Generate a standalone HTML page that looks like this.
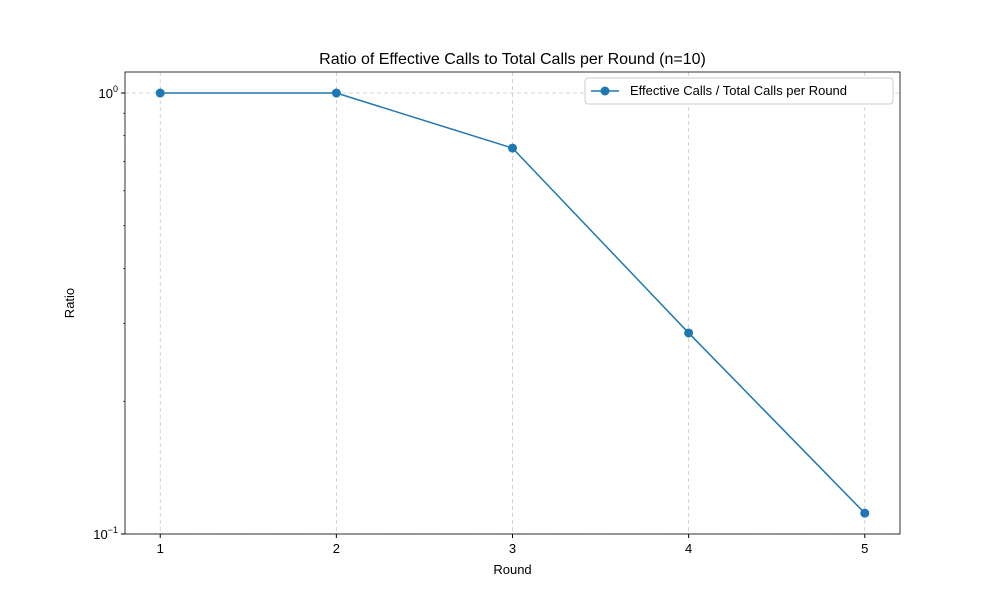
<!DOCTYPE html>
<html><head><meta charset="utf-8"><style>body{margin:0;background:#fff}svg{font-family:"Liberation Sans","DejaVu Sans",sans-serif}</style></head>
<body>
<svg id="c" width="1000" height="600"></svg>
<script>
const categories=[1,2,3,4,5];
const values=[1.0,1.0,0.75,0.2857,0.1115];
const seriesName="Effective Calls / Total Calls per Round";
const L=125,R=900,T=72,B=534;
const yMin=0.1,yMax=1.116;
const xMin=0.8,xMax=5.2;
const xs=v=>L+(v-xMin)/(xMax-xMin)*(R-L);
const ys=v=>B-(Math.log10(v)-Math.log10(yMin))/(Math.log10(yMax)-Math.log10(yMin))*(B-T);
const svg=document.getElementById('c');const NS='http://www.w3.org/2000/svg';
function mk(t,a,p){const e=document.createElementNS(NS,t);for(const k in a)e.setAttribute(k,a[k]);(p||svg).appendChild(e);return e;}
let e;
for(const c of categories){
e=mk('line',{x1:xs(c),x2:xs(c),y1:T,y2:B,stroke:'#b0b0b0','stroke-dasharray':'4,3','stroke-width':0.8,opacity:0.7});


e=mk('line',{x1:xs(c),x2:xs(c),y1:B,y2:B+4,stroke:'#000'});


e=mk('text',{x:xs(c),y:B+19,'text-anchor':'middle','font-size':13});e.textContent=c;


}
for(const v of [0.1,1]){
e=mk('line',{x1:L,x2:R,y1:ys(v),y2:ys(v),stroke:'#b0b0b0','stroke-dasharray':'4,3','stroke-width':0.8,opacity:0.7});


e=mk('line',{x1:L-4,x2:L,y1:ys(v),y2:ys(v),stroke:'#000'});


e=mk('text',{x:L-7,y:ys(v)+5,'text-anchor':'end','font-size':13});
e.innerHTML='10<tspan dy="-6" font-size="9">'+(v===1?'0':'\u22121')+'</tspan>';


}
for(let m=2;m<=9;m++){const v=m/10;
e=mk('line',{x1:L-2,x2:L,y1:ys(v),y2:ys(v),stroke:'#000','stroke-width':0.6});

}
e=mk('rect',{x:L,y:T,width:R-L,height:B-T,fill:'none',stroke:'#000','stroke-width':0.8});


e=mk('polyline',{points:categories.map((c,i)=>xs(c)+','+ys(values[i])).join(' '),fill:'none',stroke:'#1f77b4','stroke-width':1.5});


categories.forEach((c,i)=>{e=mk('circle',{cx:xs(c),cy:ys(values[i]),r:4.5,fill:'#1f77b4'});

});
e=mk('text',{x:(L+R)/2,y:64,'text-anchor':'middle','font-size':16});e.textContent='Ratio of Effective Calls to Total Calls per Round (n=10)';


e=mk('text',{x:(L+R)/2,y:574,'text-anchor':'middle','font-size':13});e.textContent='Round';


e=mk('text',{x:74,y:(T+B)/2,'text-anchor':'middle','font-size':13,transform:'rotate(-90 74 '+(T+B)/2+')'});e.textContent='Ratio';


const g=mk('g',{});


mk('rect',{x:585,y:78,width:308,height:26,rx:3,fill:'#fff',stroke:'#ccc'},g);
mk('line',{x1:591,x2:619,y1:91,y2:91,stroke:'#1f77b4','stroke-width':1.5},g);
mk('circle',{cx:605,cy:91,r:4.5,fill:'#1f77b4'},g);
e=mk('text',{x:630,y:95,'font-size':13},g);e.textContent=seriesName;


</script>
</body></html>
